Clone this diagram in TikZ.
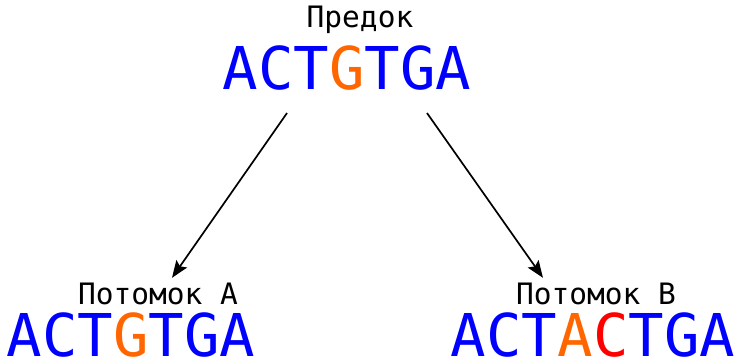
\documentclass[tikz,border=0pt]{standalone}
\usepackage{fontspec}
\usepackage{tikz}
\usetikzlibrary{arrows.meta,positioning}
\newfontfamily\monofont{DejaVu Sans Mono}
\definecolor{nucl}{RGB}{0,0,255}
\definecolor{mutA}{RGB}{255,102,0}
\definecolor{mutB}{RGB}{255,0,0}
\tikzstyle{seq} = [inner sep=0pt, anchor=base, text=nucl,
    font=\monofont\fontsize{59}{61}\selectfont]
\tikzstyle{lbl} = [inner sep=0pt, anchor=base, text=black,
    font=\monofont\fontsize{29.5}{32}\selectfont]
\tikzstyle{arr} = [-{Stealth[length=17pt,width=13pt,inset=3pt]}, line width=1.7pt]

\begin{document}
\begin{tikzpicture}[x=1pt, y=-1pt]
  \useasboundingbox (0,0) rectangle (734,361);
  \node [lbl] (anc) at (360,28) {Предок};
  \node [seq] (ancseq) at (347,90) {ACT\textcolor{mutA}{G}TGA};
  \node [lbl] (chA) at (158,304) {Потомок A};
  \node [seq] (chAseq) at (131,356) {ACT\textcolor{mutA}{G}TGA};
  \node [lbl] (chB) at (596,304) {Потомок B};
  \node [seq] (chBseq) at (593,356) {ACT\textcolor{mutA}{A}\textcolor{mutB}{C}TGA};
  \draw [arr] ([xshift=-60pt,yshift=-22pt]ancseq.south) -- ([xshift=14pt,yshift=4.5pt]chA.north);
  \draw [arr] ([xshift=80pt,yshift=-22pt]ancseq.south) -- ([xshift=-53pt,yshift=4.5pt]chB.north);
\end{tikzpicture}
\end{document}
